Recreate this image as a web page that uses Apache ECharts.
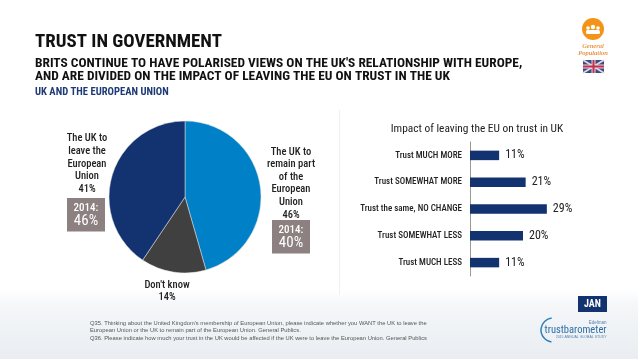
<!DOCTYPE html>
<html>
<head>
<meta charset="utf-8">
<style>html,body{margin:0;padding:0;background:#fff}#container{width:638px;height:359px}</style>
<script src="https://cdn.jsdelivr.net/npm/echarts@6/dist/echarts.min.js"></script>
</head>
<body>
<div id="container"></div>
<script>
var pieNames = ['The UK to\nremain part\nof the\nEuropean\nUnion', "Don't know", 'The UK to\nleave the\nEuropean\nUnion'];
var pieValues = [46, 14, 41];
var pieColors = ['#0080c6', '#404040', '#12336f'];
var barCategories = ['Trust MUCH MORE', 'Trust SOMEWHAT MORE', 'Trust the same, NO CHANGE', 'Trust SOMEWHAT LESS', 'Trust MUCH LESS'];
var barValues = [11, 21, 29, 20, 11];
var footnotes = [
    "Q35. Thinking about the United Kingdom's membership of European Union, please indicate whether you WANT the UK to leave the",
    'European Union or the UK to remain part of the European Union. General Publics.',
    'Q36. Please indicate how much your trust in the UK would be affected if the UK were to leave the European Union. General Publics'
];

var narrow = '"Roboto Condensed", "Liberation Sans", sans-serif';
var pieLabelPos = [{x: 291, y: 183.5}, {x: 167, y: 291.5}, {x: 87, y: 164}];

function txt(s, x, y, font, fill, align) {
    return {type: 'text', silent: true, style: {text: s, x: x, y: y, font: font, fill: fill, align: align || 'left', verticalAlign: 'middle'}};
}
function box2014(x, y, val) {
    return [
        {type: 'rect', silent: true, shape: {x: x, y: y, width: 38, height: 33.5}, style: {fill: '#8c8080'}},
        txt('2014:', x + 19, y + 10.5, '500 11px ' + narrow, '#fff', 'center'),
        txt(val, x + 19, y + 23.5, '15px ' + narrow, '#fff', 'center')
    ];
}

var graphics = [
    // faded band at the bottom of the slide
    {type: 'rect', silent: true, z: -10, shape: {x: 0, y: 290, width: 638, height: 69},
        style: {fill: new echarts.graphic.LinearGradient(0, 0, 0, 1, [
            {offset: 0, color: '#ffffff'}, {offset: 0.2, color: '#f5f7f9'}, {offset: 1, color: '#e9edf1'}])}},
    {type: 'line', silent: true, z: -5, shape: {x1: 339.5, y1: 110, x2: 339.5, y2: 295}, style: {stroke: '#f0f0f0', lineWidth: 1}},
    txt('TRUST IN GOVERNMENT', 35, 42, 'bold 18.9px ' + narrow, '#111'),
    txt("BRITS CONTINUE TO HAVE POLARISED VIEWS ON THE UK'S RELATIONSHIP WITH EUROPE,", 35, 63.5, 'bold 13.4px ' + narrow, '#111'),
    txt('AND ARE DIVIDED ON THE IMPACT OF LEAVING THE EU ON TRUST IN THE UK', 35, 77, 'bold 13.4px ' + narrow, '#111'),
    txt('UK AND THE EUROPEAN UNION', 35, 92.5, 'bold 10.6px ' + narrow, '#1f3a77'),
    // audience badge
    {type: 'circle', silent: true, shape: {cx: 593, cy: 29, r: 11}, style: {fill: '#f39419'}},
    {type: 'circle', silent: true, shape: {cx: 593, cy: 27, r: 2.2}, style: {fill: '#fff'}},
    {type: 'circle', silent: true, shape: {cx: 588, cy: 28, r: 1.8}, style: {fill: '#fff'}},
    {type: 'circle', silent: true, shape: {cx: 598, cy: 28, r: 1.8}, style: {fill: '#fff'}},
    {type: 'rect', silent: true, shape: {x: 586, y: 30, width: 14, height: 4, r: 1.5}, style: {fill: '#fff'}},
    txt('General', 593, 46, 'italic bold 6.5px "Liberation Serif", serif', '#e8964a', 'center'),
    txt('Population', 593, 53, 'italic bold 6.5px "Liberation Serif", serif', '#e8964a', 'center'),
    // flag
    {type: 'rect', silent: true, shape: {x: 583, y: 60, width: 21, height: 13}, style: {fill: '#3a4a85'}},
    {type: 'line', silent: true, shape: {x1: 583, y1: 60, x2: 604, y2: 73}, style: {stroke: '#e3d5dc', lineWidth: 2}},
    {type: 'line', silent: true, shape: {x1: 604, y1: 60, x2: 583, y2: 73}, style: {stroke: '#e3d5dc', lineWidth: 2}},
    {type: 'rect', silent: true, shape: {x: 583, y: 64.5, width: 21, height: 4}, style: {fill: '#e3d5dc'}},
    {type: 'rect', silent: true, shape: {x: 591.5, y: 60, width: 4, height: 13}, style: {fill: '#e3d5dc'}},
    {type: 'rect', silent: true, shape: {x: 583, y: 65.5, width: 21, height: 2}, style: {fill: '#c4304a'}},
    {type: 'rect', silent: true, shape: {x: 592.5, y: 60, width: 2, height: 13}, style: {fill: '#c4304a'}},
    // month tag and logo
    {type: 'rect', silent: true, shape: {x: 578, y: 296, width: 29, height: 16}, style: {fill: '#12336f'}},
    txt('JAN', 592.5, 304.5, 'bold 10px ' + narrow, '#fff', 'center'),
    txt('Edelman', 606.5, 323, '4.5px "Liberation Sans", sans-serif', '#5a7fa8', 'right'),
    txt('trustbarometer', 606.5, 330.5, '10.5px ' + narrow, '#2f6fa8', 'right'),
    txt('2015 ANNUAL GLOBAL STUDY', 606.5, 337.5, '3.5px "Liberation Sans", sans-serif', '#5a7fa8', 'right'),
    {type: 'arc', silent: true, shape: {cx: 553, cy: 330, r: 12, startAngle: 1.7, endAngle: 4.6}, style: {stroke: '#2f7fb8', fill: 'none', lineWidth: 1.5}},
    txt('Impact of leaving the EU on trust in UK', 477, 129.5, '11.4px ' + narrow, '#222', 'center')
];
graphics = graphics.concat(box2014(67, 198, '46%'), box2014(272, 220, '40%'));
for (var i = 0; i < footnotes.length; i++) {
    graphics.push(txt(footnotes[i], 90, 323 + i * 7.7, '5.8px "Liberation Sans", sans-serif', '#555'));
}

var myChart = echarts.init(document.getElementById('container'));
var option = {
    animation: false,
    graphic: graphics,
    grid: {left: 470, top: 142, width: 106, height: 134, containLabel: false},
    xAxis: {type: 'value', min: 0, max: 40, show: false},
    yAxis: {
        type: 'category',
        inverse: true,
        data: barCategories,
        axisLine: {lineStyle: {color: '#999', width: 1}},
        axisTick: {show: false},
        axisLabel: {color: '#222', fontFamily: narrow, fontSize: 9, fontWeight: 500, margin: 8}
    },
    series: [
        {
            type: 'pie',
            center: [185, 197],
            radius: [0, 76],
            startAngle: 90,
            data: pieValues.map(function (v, i) {
                return {value: v, name: pieNames[i], itemStyle: {color: pieColors[i]}};
            }),
            itemStyle: {borderColor: '#e4e4e4', borderWidth: 0.5},
            labelLayout: function (params) {
                var p = pieLabelPos[params.dataIndex];
                return {x: p.x, y: p.y, align: 'center', verticalAlign: 'middle'};
            },
            label: {
                position: 'inside',
                formatter: '{b}\n{c}%',
                color: '#222',
                fontFamily: narrow,
                fontSize: 10.5,
                fontWeight: 500,
                lineHeight: 12.6,
                align: 'center'
            },
            labelLine: {show: false}
        },
        {
            type: 'bar',
            data: barValues,
            barWidth: 9.5,
            itemStyle: {color: '#12336f'},
            label: {
                show: true,
                position: 'right',
                distance: 6,
                formatter: '{c}%',
                color: '#222',
                fontFamily: narrow,
                fontSize: 12
            }
        }
    ]
};
myChart.setOption(option, true);
</script>
</body>
</html>
